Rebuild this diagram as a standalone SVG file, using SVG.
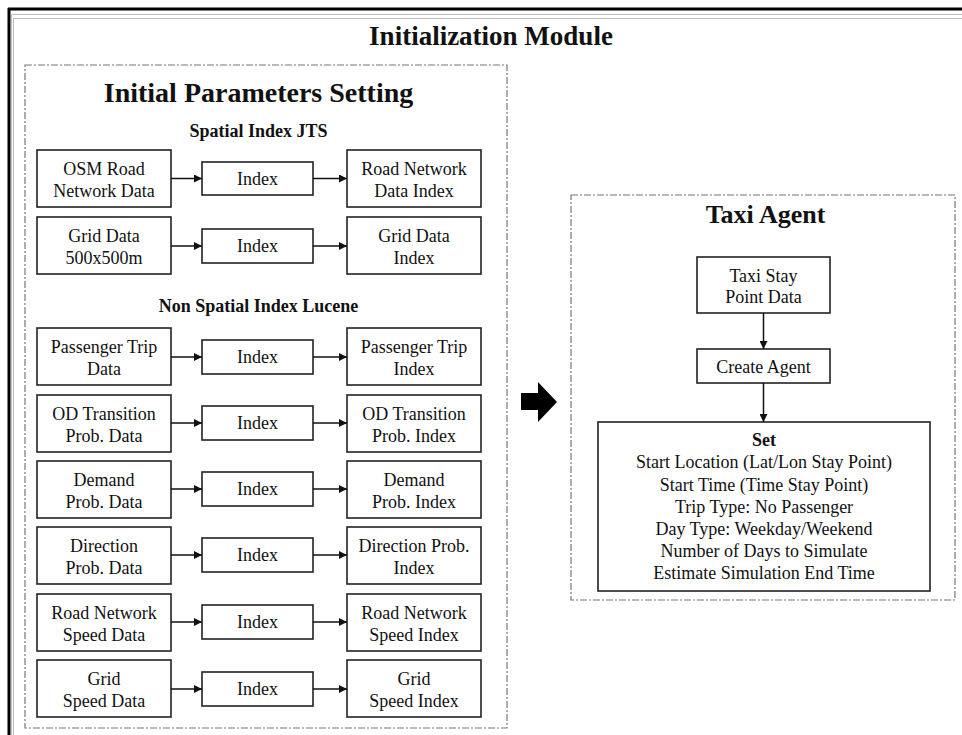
<svg xmlns="http://www.w3.org/2000/svg" width="962" height="735" viewBox="0 0 962 735">
<style>
.box{fill:#fff;stroke:#222;stroke-width:1.6}
.dash{fill:none;stroke:#777;stroke-width:1.2;stroke-dasharray:7 2 2 2}
.t{font-family:"Liberation Serif","Times New Roman",serif;font-size:18px;fill:#111;text-anchor:middle}
.b{font-family:"Liberation Serif","Times New Roman",serif;font-weight:bold;fill:#111;text-anchor:middle}
.con{stroke:#111;stroke-width:1.5;fill:none;marker-end:url(#ah)}
</style>
<defs>
<marker id="ah" viewBox="0 0 10 10" refX="10" refY="5" markerWidth="8" markerHeight="8" markerUnits="userSpaceOnUse" orient="auto">
<path d="M0,0 L10,5 L0,10 z" fill="#111"/>
</marker>
</defs>
<rect width="962" height="735" fill="#fff"/>
<g id="frame">
<line x1="8" y1="9" x2="962" y2="9" stroke="#000" stroke-width="3"/>
<line x1="9" y1="8" x2="9" y2="735" stroke="#000" stroke-width="3"/>
<line x1="11.5" y1="14.5" x2="962" y2="14.5" stroke="#bbb" stroke-width="1"/>
<line x1="13.5" y1="18.5" x2="962" y2="18.5" stroke="#bbb" stroke-width="1"/>
<line x1="11.5" y1="14.5" x2="11.5" y2="735" stroke="#bbb" stroke-width="1"/>
<line x1="13.5" y1="18.5" x2="13.5" y2="735" stroke="#bbb" stroke-width="1"/>
</g>
<text class="b" x="491" y="45" font-size="27">Initialization Module</text>
<g id="initial-parameters">
<rect class="dash" x="25" y="65" width="482" height="663"/>
<text class="b" x="258.5" y="102" font-size="28">Initial Parameters Setting</text>
<text class="b" x="258.5" y="137" font-size="18">Spatial Index JTS</text>
<text class="b" x="258.5" y="312" font-size="18">Non Spatial Index Lucene</text>
</g>
<g id="r1-src"><rect class="box" x="37" y="150" width="134" height="57"/><text class="t" x="104" y="175">OSM Road</text><text class="t" x="104" y="197">Network Data</text></g>
<g id="r1-idx"><rect class="box" x="202" y="162" width="111" height="33"/><text class="t" x="257.5" y="185">Index</text></g>
<g id="r1-out"><rect class="box" x="347" y="150" width="134" height="57"/><text class="t" x="414" y="175">Road Network</text><text class="t" x="414" y="197">Data Index</text></g>

<g id="r2-src"><rect class="box" x="37" y="217" width="134" height="57"/><text class="t" x="104" y="242">Grid Data</text><text class="t" x="104" y="264">500x500m</text></g>
<g id="r2-idx"><rect class="box" x="202" y="229" width="111" height="34"/><text class="t" x="257.5" y="252">Index</text></g>
<g id="r2-out"><rect class="box" x="347" y="217" width="134" height="57"/><text class="t" x="414" y="242">Grid Data</text><text class="t" x="414" y="264">Index</text></g>

<g id="r3-src"><rect class="box" x="37" y="328" width="134" height="57"/><text class="t" x="104" y="353">Passenger Trip</text><text class="t" x="104" y="375">Data</text></g>
<g id="r3-idx"><rect class="box" x="202" y="340" width="111" height="34"/><text class="t" x="257.5" y="363">Index</text></g>
<g id="r3-out"><rect class="box" x="347" y="328" width="134" height="57"/><text class="t" x="414" y="353">Passenger Trip</text><text class="t" x="414" y="375">Index</text></g>

<g id="r4-src"><rect class="box" x="37" y="395" width="134" height="57"/><text class="t" x="104" y="420">OD Transition</text><text class="t" x="104" y="442">Prob. Data</text></g>
<g id="r4-idx"><rect class="box" x="202" y="406" width="111" height="34"/><text class="t" x="257.5" y="429">Index</text></g>
<g id="r4-out"><rect class="box" x="347" y="395" width="134" height="57"/><text class="t" x="414" y="420">OD Transition</text><text class="t" x="414" y="442">Prob. Index</text></g>

<g id="r5-src"><rect class="box" x="37" y="461" width="134" height="57"/><text class="t" x="104" y="486">Demand</text><text class="t" x="104" y="508">Prob. Data</text></g>
<g id="r5-idx"><rect class="box" x="202" y="472" width="111" height="34"/><text class="t" x="257.5" y="495">Index</text></g>
<g id="r5-out"><rect class="box" x="347" y="461" width="134" height="57"/><text class="t" x="414" y="486">Demand</text><text class="t" x="414" y="508">Prob. Index</text></g>

<g id="r6-src"><rect class="box" x="37" y="527" width="134" height="57"/><text class="t" x="104" y="552">Direction</text><text class="t" x="104" y="574">Prob. Data</text></g>
<g id="r6-idx"><rect class="box" x="202" y="538" width="111" height="34"/><text class="t" x="257.5" y="561">Index</text></g>
<g id="r6-out"><rect class="box" x="347" y="527" width="134" height="57"/><text class="t" x="414" y="552">Direction Prob.</text><text class="t" x="414" y="574">Index</text></g>

<g id="r7-src"><rect class="box" x="37" y="594" width="134" height="57"/><text class="t" x="104" y="619">Road Network</text><text class="t" x="104" y="641">Speed Data</text></g>
<g id="r7-idx"><rect class="box" x="202" y="605" width="111" height="34"/><text class="t" x="257.5" y="628">Index</text></g>
<g id="r7-out"><rect class="box" x="347" y="594" width="134" height="57"/><text class="t" x="414" y="619">Road Network</text><text class="t" x="414" y="641">Speed Index</text></g>

<g id="r8-src"><rect class="box" x="37" y="660" width="134" height="57"/><text class="t" x="104" y="685">Grid</text><text class="t" x="104" y="707">Speed Data</text></g>
<g id="r8-idx"><rect class="box" x="202" y="672" width="111" height="34"/><text class="t" x="257.5" y="695">Index</text></g>
<g id="r8-out"><rect class="box" x="347" y="660" width="134" height="57"/><text class="t" x="414" y="685">Grid</text><text class="t" x="414" y="707">Speed Index</text></g>

<g id="taxi-agent">
<rect class="dash" x="571" y="195" width="384" height="405"/>
<text class="b" x="765.5" y="223" font-size="26">Taxi Agent</text>
</g>
<g id="stay-point"><rect class="box" x="697" y="257" width="133" height="56"/><text class="t" x="763.5" y="282">Taxi Stay</text><text class="t" x="763.5" y="303">Point Data</text></g>
<g id="create-agent"><rect class="box" x="697" y="349" width="133" height="34"/><text class="t" x="763.5" y="373">Create Agent</text></g>
<g id="set"><rect class="box" x="598" y="422" width="332" height="169"/>
<text class="b" x="764" y="446" font-size="18">Set</text>
<text class="t" x="764" y="468">Start Location (Lat/Lon Stay Point)</text>
<text class="t" x="764" y="491">Start Time (Time Stay Point)</text>
<text class="t" x="764" y="513">Trip Type: No Passenger</text>
<text class="t" x="764" y="535">Day Type: Weekday/Weekend</text>
<text class="t" x="764" y="557">Number of Days to Simulate</text>
<text class="t" x="764" y="579">Estimate Simulation End Time</text>
</g>
<g id="big-arrow"><path d="M521,393 L538,393 L538,382 L557,402 L538,422 L538,410 L521,410 Z" fill="#000"/></g>
<g id="connectors">
<line class="con" x1="171" y1="178.5" x2="202" y2="178.5"/><line class="con" x1="313" y1="178.5" x2="347" y2="178.5"/>
<line class="con" x1="171" y1="246" x2="202" y2="246"/><line class="con" x1="313" y1="246" x2="347" y2="246"/>
<line class="con" x1="171" y1="357" x2="202" y2="357"/><line class="con" x1="313" y1="357" x2="347" y2="357"/>
<line class="con" x1="171" y1="423" x2="202" y2="423"/><line class="con" x1="313" y1="423" x2="347" y2="423"/>
<line class="con" x1="171" y1="489" x2="202" y2="489"/><line class="con" x1="313" y1="489" x2="347" y2="489"/>
<line class="con" x1="171" y1="555" x2="202" y2="555"/><line class="con" x1="313" y1="555" x2="347" y2="555"/>
<line class="con" x1="171" y1="622" x2="202" y2="622"/><line class="con" x1="313" y1="622" x2="347" y2="622"/>
<line class="con" x1="171" y1="689" x2="202" y2="689"/><line class="con" x1="313" y1="689" x2="347" y2="689"/>
<line class="con" x1="763.5" y1="313" x2="763.5" y2="349"/>
<line class="con" x1="763.5" y1="383" x2="763.5" y2="422"/>
</g>
</svg>
